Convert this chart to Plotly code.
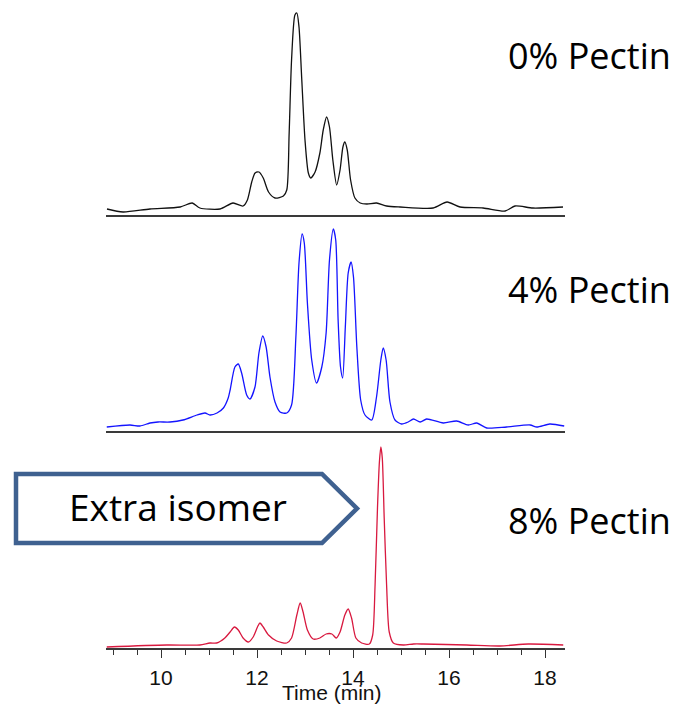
import plotly.graph_objects as go

# ---------------- data ----------------
time_0pct = [8.875, 9.21, 9.77, 10.40, 10.65, 10.81, 11.23, 11.50, 11.71, 11.80,
             11.89, 11.96, 12.04, 12.13, 12.24, 12.375, 12.55, 12.62, 12.67, 12.72,
             12.79, 12.83, 12.875, 12.93, 13.00, 13.07, 13.12, 13.21, 13.31, 13.38,
             13.45, 13.51, 13.58, 13.66, 13.73, 13.79, 13.83, 13.88, 13.95, 14.04,
             14.15, 14.29, 14.49, 14.70, 14.98, 15.67, 15.96, 16.23, 16.71, 17.17,
             17.375, 17.75, 18.375]
signal_0pct = [6, 3, 6, 8, 12, 7, 6, 12, 9, 15,
               33, 42, 43, 37, 23, 17, 19, 25, 82, 155,
               200, 202, 188, 138, 75, 42, 37, 43, 62, 85,
               98, 88, 55, 30, 45, 68, 73, 65, 35, 17,
               12, 11, 12, 9, 8, 7, 13, 8, 7, 4,
               9, 7, 8]

time_4pct = [8.87, 9.354, 9.5625, 9.771, 9.9375, 10.1875, 10.458, 10.75, 10.917, 11.02,
             11.167, 11.30, 11.40, 11.44, 11.54, 11.61, 11.68, 11.785, 11.854, 11.958,
             12.04, 12.12, 12.19, 12.27, 12.375, 12.48, 12.62, 12.72, 12.81, 12.875,
             12.94, 12.985, 13.05, 13.14, 13.24, 13.35, 13.44, 13.51, 13.59, 13.64,
             13.69, 13.74, 13.785, 13.84, 13.90, 13.96, 14.01, 14.08, 14.16, 14.25,
             14.39, 14.49, 14.58, 14.63, 14.69, 14.77, 14.875, 15.01, 15.15, 15.26,
             15.40, 15.535, 15.88, 16.16, 16.40, 16.58, 16.785, 17.20, 17.69, 17.83,
             18.10, 18.40]
signal_4pct = [4, 6, 5, 8, 9, 9, 11, 16, 18, 16,
               18, 23, 33, 41, 64, 67, 58, 36, 32, 44,
               78, 95, 84, 54, 29, 19, 18, 26, 94, 168,
               197, 188, 128, 71, 48, 64, 98, 171, 202, 191,
               111, 64, 53, 104, 158, 169, 154, 84, 31, 16,
               11, 34, 71, 83, 71, 29, 11, 7, 9, 12,
               9, 12, 8, 10, 6, 8, 3, 4, 6, 4,
               7, 5]

time_8pct = [8.87, 10.12, 10.81, 11.02, 11.16, 11.33, 11.44, 11.53, 11.61, 11.71,
             11.82, 11.92, 12.01, 12.06, 12.13, 12.24, 12.41, 12.62, 12.72, 12.83,
             12.90, 12.96, 13.05, 13.17, 13.31, 13.44, 13.56, 13.65, 13.73, 13.83,
             13.90, 13.97, 14.06, 14.18, 14.34, 14.41, 14.46, 14.51, 14.55, 14.58,
             14.61, 14.65, 14.70, 14.755, 14.84, 15.05, 15.26, 15.46, 16.37, 17.06,
             17.65, 18.38]
signal_8pct = [1, 3, 3, 5, 5, 10, 16, 21, 18, 10,
               6, 11, 21, 25, 21, 13, 7, 5, 10, 33,
               45, 36, 18, 9, 10, 14, 14, 10, 16, 33,
               39, 30, 10, 5, 4, 13, 63, 140, 186, 201,
               190, 130, 63, 16, 5, 3, 4, 4, 3, 2,
               4, 3]

panel_labels = ["0% Pectin", "4% Pectin", "8% Pectin"]
annotation_text = "Extra isomer"
x_title = "Time (min)"

# ---------------- layout helpers (page pixel -> paper) ----------------
OFF = 8                      # default page body margin
W, H = 683 - 2 * OFF, 715 - 2 * OFF
PLOT_L, PLOT_R, PLOT_T, PLOT_B = 106, 565, 8, 648   # page pixels of plot area
ML, MR = PLOT_L - OFF, W - (PLOT_R - OFF)
MT, MB = PLOT_T - OFF, H - (PLOT_B - OFF)


def px(x):
    return (x - PLOT_L) / (PLOT_R - PLOT_L)


def py(y):
    return (PLOT_B - y) / (PLOT_B - PLOT_T)


X_RANGE = [10 + (PLOT_L - 161) / 48.0, 10 + (PLOT_R - 161) / 48.0]

fig = go.Figure()
series = [
    (time_0pct, signal_0pct, "#111111", "x", "y"),
    (time_4pct, signal_4pct, "#1414ff", "x2", "y2"),
    (time_8pct, signal_8pct, "#d8193f", "x3", "y3"),
]
for t, s, c, xa, ya in series:
    fig.add_trace(go.Scatter(x=t, y=s, mode="lines",
                             line=dict(color=c, width=1.3, shape="spline", smoothing=0.7),
                             xaxis=xa, yaxis=ya, showlegend=False, hoverinfo="skip"))

common_x = dict(range=X_RANGE, showline=True, linecolor="#3a3a3a", linewidth=1.5,
                showgrid=False, zeroline=False, fixedrange=True, automargin=False)

fig.update_layout(
    width=W, height=H,
    margin=dict(l=ML, r=MR, t=MT, b=MB),
    paper_bgcolor="white", plot_bgcolor="white",
    xaxis=dict(**common_x, anchor="y", ticks="", showticklabels=False),
    yaxis=dict(range=[0, 215 - PLOT_T], visible=False, fixedrange=True,
               automargin=False, domain=[py(215), 1]),
    xaxis2=dict(**common_x, anchor="y2", ticks="", showticklabels=False),
    yaxis2=dict(range=[0, 213], visible=False, fixedrange=True,
                automargin=False, domain=[py(431), py(218)]),
    xaxis3=dict(**common_x, anchor="y3", ticks="outside", ticklen=8, tickwidth=1.2,
                tickcolor="#333333", tick0=0, dtick=2, ticklabelstandoff=2,
                minor=dict(dtick=0.5, ticks="outside", ticklen=5, tickwidth=1,
                           tickcolor="#333333"),
                tickfont=dict(family="Liberation Sans", size=21, color="#111111")),
    yaxis3=dict(range=[0, 213], visible=False, fixedrange=True,
                automargin=False, domain=[0, py(435)]),
)

# axis title
fig.add_annotation(text=x_title, xref="paper", yref="paper", x=px(332), y=py(692),
                   xanchor="center", yanchor="middle", showarrow=False,
                   font=dict(family="Liberation Sans", size=21, color="#111111"))

# pentagon arrow box
path = (f"M {px(16)},{py(474)} L {px(322)},{py(474)} L {px(357)},{py(508.5)} "
        f"L {px(322)},{py(543)} L {px(16)},{py(543)} Z")
fig.add_shape(type="path", path=path, xref="paper", yref="paper",
              line=dict(color="#3f6190", width=4.5), fillcolor="white", layer="above")

label_y = [55.5, 289, 520.5]
for txt, yy in zip(panel_labels, label_y):
    fig.add_annotation(text=txt, xref="paper", yref="paper", x=px(506), y=py(yy),
                       xanchor="left", yanchor="middle", showarrow=False,
                       font=dict(family="Open Sans", size=36, color="black"))

fig.add_annotation(text=annotation_text, xref="paper", yref="paper", x=px(178), y=py(506),
                   xanchor="center", yanchor="middle", showarrow=False,
                   font=dict(family="Open Sans", size=37, color="black"))

fig.write_html("out.html")
